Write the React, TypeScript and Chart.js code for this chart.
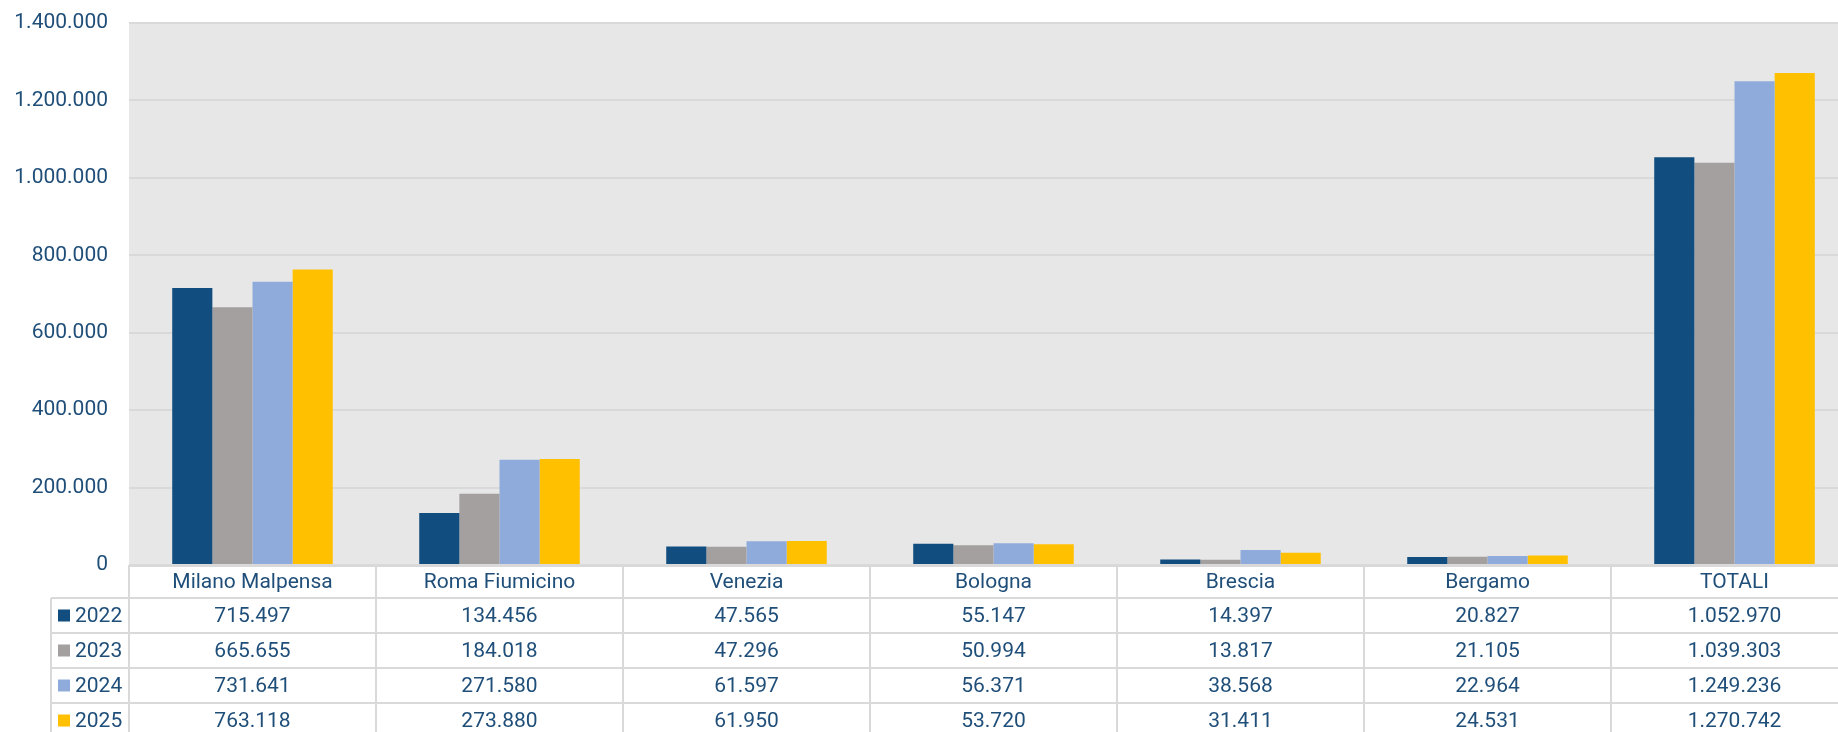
import React, { useEffect, useRef } from "react";
import { Chart, registerables } from "chart.js";

Chart.register(...registerables);

const categories = ["Milano Malpensa", "Roma Fiumicino", "Venezia", "Bologna", "Brescia", "Bergamo", "TOTALI"];
const years = ["2022", "2023", "2024", "2025"];
const values2022 = [715497, 134456, 47565, 55147, 14397, 20827, 1052970];
const values2023 = [665655, 184018, 47296, 50994, 13817, 21105, 1039303];
const values2024 = [731641, 271580, 61597, 56371, 38568, 22964, 1249236];
const values2025 = [763118, 273880, 61950, 53720, 31411, 24531, 1270742];
const seriesValues = [values2022, values2023, values2024, values2025];
const seriesColors = ["#114D7E", "#A3A09F", "#8FABDB", "#FFC000"];
const yMin = 0;
const yMax = 1400000;
const yStep = 200000;

const TEXT = "#1F4E79";
const GRID = "#D9D9D9";
const PLOT_BG = "#E7E7E7";
const FONT = "Roboto";
const CANVAS_W = 1858;
const CANVAS_H = 732;
const LEGEND_LEFT = 51;
const HEADER_H = 33;
const ROW_H = 35;

function fmt(n: number): string {
  return String(Math.round(n)).replace(/\B(?=(\d{3})+(?!\d))/g, ".");
}

const tablePlugin = {
  id: "dataTable",
  beforeDraw(chart: any) {
    const { ctx, chartArea } = chart;
    ctx.save();
    ctx.fillStyle = PLOT_BG;
    ctx.fillRect(chartArea.left, chartArea.top, chartArea.right - chartArea.left, chartArea.bottom - chartArea.top);
    ctx.restore();
  },
  afterDraw(chart: any) {
    const { ctx, chartArea } = chart;
    const xs = chart.scales.x;
    const n = categories.length;
    const left = xs.left;
    const right = xs.right;
    const colW = (right - left) / n;
    const top = chartArea.bottom;
    const headerBottom = top + HEADER_H;
    const bottom = CANVAS_H + 5;

    ctx.save();
    ctx.fillStyle = "#FFFFFF";
    ctx.fillRect(left, top, right - left, bottom - top);
    ctx.fillRect(LEGEND_LEFT, headerBottom, left - LEGEND_LEFT, bottom - headerBottom);

    ctx.strokeStyle = GRID;
    ctx.lineWidth = 2;
    ctx.beginPath();
    ctx.moveTo(left, top + 1);
    ctx.lineTo(right, top + 1);
    for (let r = 0; r <= years.length; r++) {
      const y = headerBottom + r * ROW_H;
      ctx.moveTo(LEGEND_LEFT, y);
      ctx.lineTo(right, y);
    }
    for (let i = 0; i <= n; i++) {
      const x = left + i * colW;
      ctx.moveTo(x, top);
      ctx.lineTo(x, bottom);
    }
    ctx.moveTo(LEGEND_LEFT, headerBottom);
    ctx.lineTo(LEGEND_LEFT, bottom);
    ctx.stroke();

    ctx.fillStyle = TEXT;
    ctx.font = `21px ${FONT}`;
    ctx.textAlign = "center";
    ctx.textBaseline = "middle";
    for (let i = 0; i < n; i++) {
      const cx = left + (i + 0.5) * colW;
      ctx.fillText(categories[i], cx, top + HEADER_H / 2 + 1);
      for (let r = 0; r < years.length; r++) {
        const cy = headerBottom + r * ROW_H + ROW_H / 2 + 1;
        ctx.fillText(fmt(seriesValues[r][i]), cx, cy);
      }
    }
    ctx.textAlign = "left";
    for (let r = 0; r < years.length; r++) {
      const cy = headerBottom + r * ROW_H + ROW_H / 2;
      ctx.fillStyle = seriesColors[r];
      ctx.fillRect(58, cy - 6, 12, 12);
      ctx.fillStyle = TEXT;
      ctx.fillText(years[r], 75, cy + 1);
    }
    ctx.restore();
  },
};

export default function App() {
  const ref = useRef<HTMLCanvasElement>(null);

  useEffect(() => {
    if (!ref.current) return;
    const chart = new Chart(ref.current, {
      type: "bar",
      data: {
        labels: categories,
        datasets: years.map((y, i) => ({
          label: y,
          data: seriesValues[i],
          backgroundColor: seriesColors[i],
          borderWidth: 0,
          barPercentage: 1,
          categoryPercentage: 0.65,
        })),
      },
      options: {
        animation: false,
        responsive: false,
        maintainAspectRatio: false,
        layout: { padding: { left: 0, right: 0, top: 23, bottom: CANVAS_H - 565 } },
        plugins: {
          legend: { display: false },
          tooltip: { enabled: false },
          title: { display: false },
        },
        scales: {
          x: {
            display: false,
            grid: { display: false },
          },
          y: {
            min: yMin,
            max: yMax,
            border: { display: false },
            grid: { color: GRID, lineWidth: 2, drawTicks: false },
            ticks: {
              stepSize: yStep,
              padding: 21,
              color: TEXT,
              font: { family: FONT, size: 21 },
              callback: (v: any) => fmt(Number(v)),
            },
            afterFit: (s: any) => {
              s.width = 129;
              s.paddingTop = 0;
              s.paddingBottom = 0;
            },
          },
        },
      },
      plugins: [tablePlugin],
    });
    return () => chart.destroy();
  }, []);

  return (
    <div style={{ position: "fixed", left: 0, top: 0, width: "100vw", height: CANVAS_H, overflow: "hidden", background: "#fff" }}>
      <canvas ref={ref} width={CANVAS_W} height={CANVAS_H} style={{ display: "block", width: CANVAS_W, height: CANVAS_H }} />
    </div>
  );
}
